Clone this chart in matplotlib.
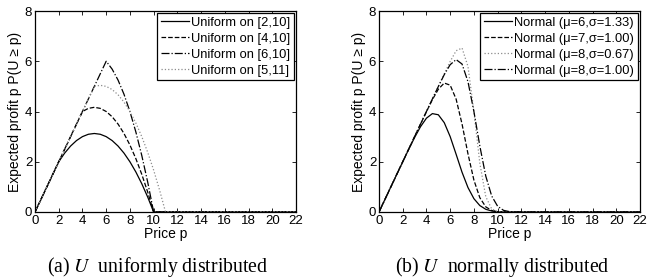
import matplotlib
matplotlib.use('Agg')
import matplotlib.pyplot as plt

plt.rcParams['font.family'] = ['Liberation Sans', 'DejaVu Sans']
plt.rcParams['mathtext.fontset'] = 'stix'

# price grid (0 to 12 in steps of 0.5, then out to 22)
price = [0, 0.5, 1, 1.5, 2, 2.5, 3, 3.5, 4, 4.5, 5, 5.5, 6, 6.5, 7, 7.5,
         8, 8.5, 9, 9.5, 10, 10.5, 11, 11.5, 12, 22]

# (a) uniform valuations
uni_2_10 = [0, 0.5, 1, 1.5, 2, 2.344, 2.625, 2.844, 3, 3.094, 3.125, 3.094, 3,
            2.844, 2.625, 2.344, 2, 1.594, 1.125, 0.594, 0, 0, 0, 0, 0, 0]
uni_4_10 = [0, 0.5, 1, 1.5, 2, 2.5, 3, 3.5, 4, 4.125, 4.167, 4.125, 4,
            3.792, 3.5, 3.125, 2.667, 2.125, 1.5, 0.792, 0, 0, 0, 0, 0, 0]
uni_6_10 = [0, 0.5, 1, 1.5, 2, 2.5, 3, 3.5, 4, 4.5, 5, 5.5, 6,
            5.688, 5.25, 4.688, 4, 3.188, 2.25, 1.188, 0, 0, 0, 0, 0, 0]
uni_5_11 = [0, 0.5, 1, 1.5, 2, 2.5, 3, 3.5, 4, 4.5, 5, 5.042, 5,
            4.875, 4.667, 4.375, 4, 3.542, 3, 2.375, 1.667, 0.875, 0, 0, 0, 0]

# (b) normal valuations
norm_6_133 = [0, 0.5, 1, 1.499, 1.997, 2.489, 2.964, 3.395, 3.735, 3.916, 3.870,
              3.556, 3.0, 2.298, 1.582, 0.973, 0.530, 0.256, 0.108, 0.040,
              0.013, 0.004, 0.001, 0, 0, 0]
norm_7_100 = [0, 0.5, 1, 1.5, 2, 2.5, 3, 3.499, 3.995, 4.472, 4.886, 5.133,
              5.048, 4.494, 3.5, 2.314, 1.269, 0.568, 0.205, 0.059, 0.014,
              0.002, 0, 0, 0, 0]
norm_8_067 = [0, 0.5, 1, 1.5, 2, 2.5, 3, 3.5, 4, 4.5, 5, 5.499, 5.991, 6.418,
              6.526, 5.791, 4.0, 1.937, 0.610, 0.120, 0.014, 0.001, 0, 0, 0, 0]
norm_8_100 = [0, 0.5, 1, 1.5, 2, 2.5, 3, 3.5, 4.0, 4.499, 4.993, 5.466, 5.864,
              6.066, 5.889, 5.186, 4.0, 2.623, 1.428, 0.635, 0.228, 0.065,
              0.015, 0.003, 0, 0]

uni_series = [
    (uni_2_10, 'Uniform on [2,10]', '-', 'black'),
    (uni_4_10, 'Uniform on [4,10]', '--', 'black'),
    (uni_6_10, 'Uniform on [6,10]', '-.', 'black'),
    (uni_5_11, 'Uniform on [5,11]', ':', '0.55'),
]
norm_series = [
    (norm_6_133, 'Normal (\u03bc=6,\u03c3=1.33)', '-', 'black'),
    (norm_7_100, 'Normal (\u03bc=7,\u03c3=1.00)', '--', 'black'),
    (norm_8_067, 'Normal (\u03bc=8,\u03c3=0.67)', ':', '0.55'),
    (norm_8_100, 'Normal (\u03bc=8,\u03c3=1.00)', '-.', 'black'),
]

fig = plt.figure(figsize=(6.47, 2.80), dpi=100)
ax1 = fig.add_axes([35 / 647, 1 - 212 / 280, 261 / 647, 201 / 280])
ax2 = fig.add_axes([379 / 647, 1 - 212 / 280, 261 / 647, 201 / 280])

for ax, series in zip([ax1, ax2], [uni_series, norm_series]):
    for vals, label, ls, col in series:
        ax.plot(price, vals, linestyle=ls, color=col, linewidth=0.9, label=label)
    ax.set_xlim(0, 22)
    ax.set_ylim(0, 8)
    ax.set_xticks(range(0, 23, 2))
    ax.set_yticks([0, 2, 4, 6, 8])
    ax.tick_params(direction='in', length=3, labelsize=9.5, pad=2, width=0.6,
                   top=True, right=True)
    for sp in ax.spines.values():
        sp.set_linewidth(0.9)
    ax.set_xlabel('Price p', fontsize=10, labelpad=0)
    ax.set_ylabel('Expected profit p P(U \u2265 p)', fontsize=10, labelpad=2)
    leg = ax.legend(loc='upper right', fontsize=9.3, handlelength=2.2,
                    handletextpad=0.15, borderpad=0.3, labelspacing=0.3,
                    borderaxespad=0.15, fancybox=False, framealpha=1)
    leg.get_frame().set_edgecolor('black')
    leg.get_frame().set_linewidth(0.9)

fig.text(158 / 647, 1 - 272 / 280, '(a) $U$  uniformly distributed',
         ha='center', va='baseline', fontsize=14.2, family='Liberation Serif')
fig.text(502 / 647, 1 - 272 / 280, '(b) $U$  normally distributed',
         ha='center', va='baseline', fontsize=14.2, family='Liberation Serif')

fig.savefig('out.png', dpi=100)
